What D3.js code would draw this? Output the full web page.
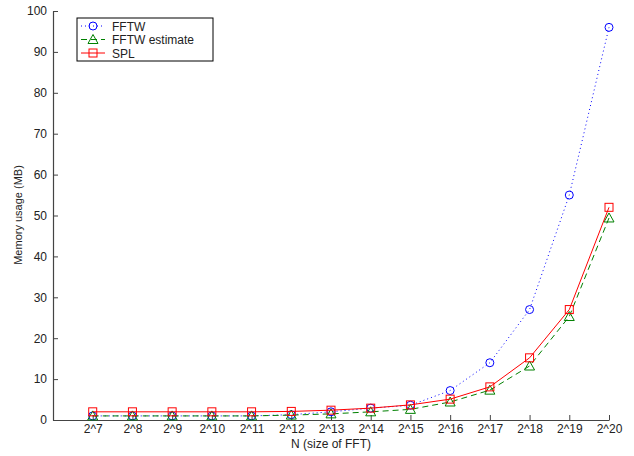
<!DOCTYPE html>
<html>
<head>
  <meta charset="UTF-8">
  <title>Memory usage</title>
  <script src="https://d3js.org/d3.v7.min.js"></script>
  <style>
    body { margin: 0; background: #fff; }
    text { font-family: "Liberation Sans", Arial, sans-serif; fill: #222; }
  </style>
</head>
<body>
<div class="chart"></div>
<script>
  // exponents of N = 2^k
  var exponents = [7, 8, 9, 10, 11, 12, 13, 14, 15, 16, 17, 18, 19, 20];
  var tickLabels = exponents.map(k => '2^' + k);
  var fftw         = [1, 1, 1, 1, 1, 1.3, 2.0, 2.9, 3.6, 7.2, 14, 27, 55, 96];
  var fftwEstimate = [1, 1, 1, 1, 1, 1.2, 1.5, 2.0, 2.6, 4.4, 7.3, 13.2, 25.3, 49.4];
  var spl          = [2, 2, 2, 2, 2, 2.1, 2.4, 2.9, 3.7, 5.1, 8.1, 15.2, 27, 52];
  var yTicks = d3.range(0, 101, 10);

  var series = [
    { name: 'FFTW', values: fftw, color: '#0000ff', dash: '1,3', marker: 'circle' },
    { name: 'FFTW estimate', values: fftwEstimate, color: '#008000', dash: '6,4', marker: 'triangle' },
    { name: 'SPL', values: spl, color: '#ff0000', dash: null, marker: 'square' }
  ];

  var width = 634, height = 456;
  var svg = d3.select('.chart').append('svg')
    .attr('width', width)
    .attr('height', height);

  var x = d3.scaleLinear().domain([6, 20]).range([53, 609]);
  var y = d3.scaleLinear().domain([0, 100]).range([420, 11]);

  // x axis
  var xAxis = svg.append('g')
    .attr('transform', 'translate(0,420)')
    .call(d3.axisBottom(x).tickValues(exponents).tickFormat((d, i) => tickLabels[i])
      .tickSizeInner(-5).tickSizeOuter(0).tickPadding(4));
  xAxis.selectAll('text').attr('font-size', 12).style('font-family', '"Liberation Sans", Arial, sans-serif').attr('fill', '#222');

  // y axis
  var yAxis = svg.append('g')
    .attr('transform', 'translate(53,0)')
    .call(d3.axisLeft(y).tickValues(yTicks)
      .tickSizeInner(-5).tickSizeOuter(0).tickPadding(6));
  yAxis.selectAll('text').attr('font-size', 12).style('font-family', '"Liberation Sans", Arial, sans-serif').attr('fill', '#222');

  svg.selectAll('.domain, .tick line').attr('stroke', '#444');
  svg.selectAll('.domain').attr('stroke-width', 1.2);

  // axis titles
  svg.append('text')
    .attr('x', 331).attr('y', 448)
    .attr('text-anchor', 'middle')
    .attr('font-size', 12)
    .text('N (size of FFT)');
  svg.append('text')
    .attr('transform', 'translate(22,215) rotate(-90)')
    .attr('text-anchor', 'middle')
    .attr('font-size', 11)
    .text('Memory usage (MB)');

  var line = d3.line()
    .x((d, i) => x(exponents[i]))
    .y(d => y(d));

  function drawMarker(g, type, color) {
    if (type === 'circle') {
      g.append('circle').attr('r', 4).attr('fill', 'none').attr('stroke', color);
    } else if (type === 'square') {
      g.append('rect').attr('x', -4).attr('y', -4).attr('width', 8).attr('height', 8)
        .attr('fill', 'none').attr('stroke', color);
    } else {
      g.append('path').attr('d', 'M0,-5L5,4L-5,4Z').attr('fill', 'none').attr('stroke', color);
    }
  }

  series.forEach(s => {
    svg.append('path')
      .attr('d', line(s.values))
      .attr('fill', 'none')
      .attr('stroke', s.color)
      .attr('stroke-width', 1)
      .attr('stroke-dasharray', s.dash);
    s.values.forEach((v, i) => {
      var g = svg.append('g').attr('transform', `translate(${x(exponents[i])},${y(v)})`);
      drawMarker(g, s.marker, s.color);
    });
  });

  // legend
  var legend = svg.append('g').attr('transform', 'translate(77,18)');
  legend.append('rect')
    .attr('width', 136).attr('height', 43)
    .attr('fill', '#fff').attr('stroke', '#000').attr('stroke-width', 1);
  series.forEach((s, i) => {
    var ly = 8 + i * 13.5;
    legend.append('line')
      .attr('x1', 4).attr('x2', 28).attr('y1', ly).attr('y2', ly)
      .attr('stroke', s.color).attr('stroke-dasharray', s.dash);
    var g = legend.append('g').attr('transform', `translate(16,${ly})`);
    drawMarker(g, s.marker, s.color);
    legend.append('text')
      .attr('x', 35).attr('y', ly + 4.5)
      .attr('font-size', 12)
      .text(s.name);
  });
</script>
</body>
</html>
